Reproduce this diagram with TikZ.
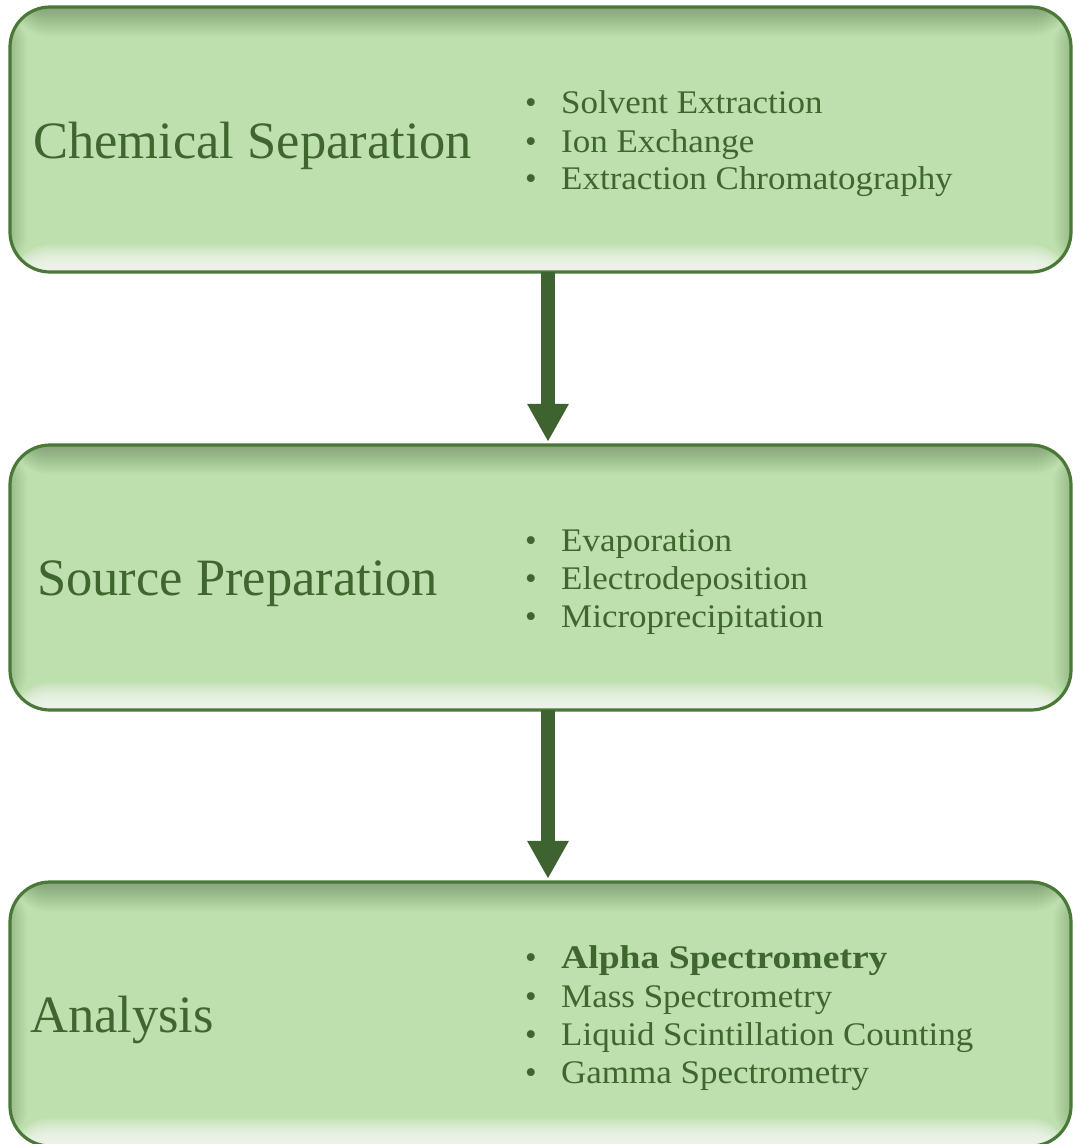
\documentclass[tikz,border=0pt]{standalone}
\usepackage{fontspec}
\setmainfont{Liberation Serif}
\newfontfamily\itemfont{Liberation Serif}[FakeStretch=1.06]
\newfontfamily\itembold{Liberation Serif}[FakeStretch=1.14]
\usetikzlibrary{arrows.meta}
\definecolor{fillc}{RGB}{190,223,174}
\definecolor{shadec}{RGB}{60,82,50}
\definecolor{bordc}{RGB}{74,120,54}
\definecolor{txtc}{RGB}{64,102,47}
\definecolor{arrc}{RGB}{63,99,48}
\tikzset{
  gbox/.style={draw=bordc, line width=3.2pt, fill=fillc, rounded corners=40pt,
    minimum width=1061pt, inner sep=0pt,
    path picture={
      \foreach \k in {1,...,30}
        \fill[shadec, opacity=0.012] (path picture bounding box.north west)
          rectangle ([yshift=-\k*1pt]path picture bounding box.north east);
      \foreach \k in {1,...,18}
        \fill[shadec, opacity=0.012] (path picture bounding box.north west)
          rectangle ([xshift=\k*1pt]path picture bounding box.south west);
      \foreach \k in {1,...,18}
        \fill[shadec, opacity=0.012] (path picture bounding box.north east)
          rectangle ([xshift=-\k*1pt]path picture bounding box.south east);
      \foreach \k in {3,...,28}
        \fill[white, opacity=0.065] ([yshift=\k*1pt]path picture bounding box.south west)
          rectangle (path picture bounding box.south east);
    }},
  title/.style={anchor=base west, inner sep=0pt, text=txtc, font=\fontsize{52.5}{60}\selectfont},
  item/.style={anchor=base west, inner sep=0pt, text=txtc, font=\fontsize{33}{38}\itemfont},
  bul/.style={anchor=base, inner sep=0pt, text=txtc, font=\fontsize{33}{38}\selectfont},
  flow/.style={draw=arrc, line width=14pt, -{Triangle[width=39pt,length=38pt]}}
}
\begin{document}
\begin{tikzpicture}[x=1pt,y=-1pt]
\useasboundingbox (0,0) rectangle (1072,1144);
% boxes
\node[gbox, minimum height=265pt] (b1) at (540.5,139.5) {};
\node[gbox, minimum height=265pt] (b2) at (540.5,577.5) {};
\node[gbox, minimum height=264pt] (b3) at (540.5,1014) {};
% titles
\node[title] (t1) at (33,158) {Chemical Separation};
\node[title] (t2) at (37,595) {Source Preparation};
\node[title] (t3) at (30,1032) {Analysis};
% box 1 items
\node[bul] (u11) at (531,113) {•};
\node[item] (i11) at (561,113) {Solvent Extraction};
\node[bul] (u12) at (531,152) {•};
\node[item] (i12) at (561,152) {Ion Exchange};
\node[bul] (u13) at (531,189) {•};
\node[item] (i13) at (561,189) {Extraction Chromatography};
% box 2 items
\node[bul] (u21) at (531,551) {•};
\node[item] (i21) at (561,551) {Evaporation};
\node[bul] (u22) at (531,589) {•};
\node[item] (i22) at (561,589) {Electrodeposition};
\node[bul] (u23) at (531,627) {•};
\node[item] (i23) at (561,627) {Microprecipitation};
% box 3 items
\node[bul] (u31) at (531,968) {•};
\node[item] (i31) at (561,968) {\itembold\bfseries Alpha Spectrometry};
\node[bul] (u32) at (531,1007) {•};
\node[item] (i32) at (561,1007) {Mass Spectrometry};
\node[bul] (u33) at (531,1045) {•};
\node[item] (i33) at (561,1045) {Liquid Scintillation Counting};
\node[bul] (u34) at (531,1083) {•};
\node[item] (i34) at (561,1083) {Gamma Spectrometry};
% arrows
\coordinate (ax) at (548,0);
\draw[flow] ([yshift=1.6pt]b1.south -| ax) -- ([yshift=1.6pt]b2.north -| ax);
\draw[flow] ([yshift=1.6pt]b2.south -| ax) -- ([yshift=1.6pt]b3.north -| ax);
\end{tikzpicture}
\end{document}
